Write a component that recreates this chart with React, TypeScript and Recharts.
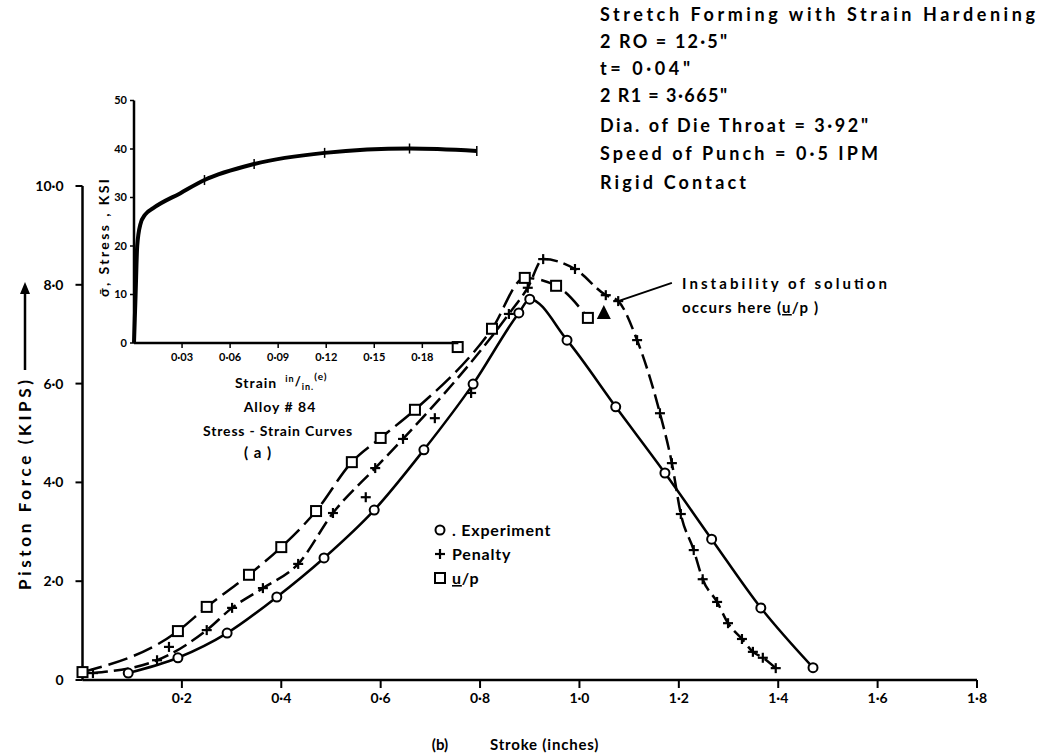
import React from "react";
import {
  ComposedChart,
  LineChart,
  Line,
  Scatter,
  XAxis,
  YAxis,
  ReferenceLine,
  Legend,
} from "recharts";

const FONT = "Lato, 'DejaVu Sans', sans-serif";

// main chart: [stroke (in), piston force (kips)]
const experiment = [
  [0.092, 0.14], [0.192, 0.45], [0.291, 0.95], [0.391, 1.68], [0.486, 2.47],
  [0.587, 3.44], [0.687, 4.66], [0.786, 5.99], [0.878, 7.43], [0.9, 7.71],
  [0.975, 6.88], [1.073, 5.53], [1.172, 4.19], [1.266, 2.85], [1.365, 1.46],
  [1.47, 0.25],
];
const penalty = [
  [0.021, 0.14], [0.15, 0.4], [0.25, 1.01], [0.301, 1.46],
  [0.363, 1.86], [0.434, 2.35], [0.504, 3.38], [0.589, 4.29],
  [0.645, 4.88], [0.858, 7.41], [0.896, 7.94],
  [0.927, 8.52], [0.991, 8.32], [1.053, 7.79], [1.078, 7.67], [1.116, 6.88],
  [1.162, 5.4], [1.186, 4.39], [1.204, 3.36], [1.23, 2.63], [1.248, 2.04],
  [1.277, 1.58], [1.299, 1.15], [1.327, 0.83], [1.349, 0.57], [1.369, 0.45],
  [1.395, 0.24],
];
// penalty points plotted off the drawn curve
const penaltyStray = [[0.174, 0.67], [0.57, 3.7], [0.709, 5.3], [0.782, 5.81]];
const uOverP = [
  [0.0, 0.16], [0.192, 0.99], [0.25, 1.48], [0.335, 2.13], [0.4, 2.69],
  [0.47, 3.42], [0.542, 4.41], [0.6, 4.9], [0.669, 5.47],
  [0.824, 7.11], [0.89, 8.14], [0.953, 7.98], [1.017, 7.33],
];
const uOverPStray = [[0.755, 6.74]];
const instability = [[1.049, 7.43]];
const arrowFrom = [1.186, 8.04];
const arrowTo = [1.078, 7.67];

const strokeTicks = [0.2, 0.4, 0.6, 0.8, 1.0, 1.2, 1.4, 1.6, 1.8];
const forceTicks = [0, 2, 4, 6, 8, 10];

// inset: [strain (in/in), stress (ksi)]
const stressStrain = [
  [0, 0], [0.001, 10], [0.002, 20], [0.004, 24.5], [0.007, 26.5],
  [0.012, 27.8], [0.029, 30.9], [0.044, 33.6], [0.075, 36.9], [0.119, 39.2],
  [0.172, 40.1], [0.214, 39.6],
];
const FIRST_MARKED = 7;
const strainTicks = [0.03, 0.06, 0.09, 0.12, 0.15, 0.18];
const stressTicks = [0, 10, 20, 30, 40, 50];
const strainAxisEnd = 0.2025;

const titleLines = [
  { text: "Stretch  Forming  with  Strain  Hardening", width: 435, y: 21 },
  { text: "2 RO = 12·5\"", width: 127, y: 48 },
  { text: "t= 0·04\"", width: 90, y: 75 },
  { text: "2 R1 = 3·665\"", width: 127, y: 102 },
  { text: "Dia. of  Die  Throat = 3·92\"", width: 268, y: 132 },
  { text: "Speed  of  Punch = 0·5 IPM", width: 278, y: 160 },
  { text: "Rigid  Contact", width: 146, y: 189 },
];

const toPts = (arr: number[][]) => arr.map(([x, y]) => ({ x, y }));

const dec = (v: number) => (v === 0 ? "0" : v.toFixed(1).replace(".", "·"));
const dec2 = (v: number) => v.toFixed(2).replace(".", "·");

function CircleDot(p: any) {
  if (p.cx == null) return <g key={p.key} />;
  return <circle key={`c-${p.index}`} cx={p.cx} cy={p.cy} r={4.5} fill="#fff" stroke="#000" strokeWidth={2} />;
}
function SquareDot(p: any) {
  if (p.cx == null) return <g key={p.key} />;
  return <rect key={`s-${p.index}`} x={p.cx - 5} y={p.cy - 5} width={10} height={10} fill="#fff" stroke="#000" strokeWidth={2} />;
}
function PlusDot(p: any) {
  if (p.cx == null) return <g key={p.key} />;
  return (
    <g key={`p-${p.index}`} stroke="#000" strokeWidth={2.2}>
      <line x1={p.cx - 5} y1={p.cy} x2={p.cx + 5} y2={p.cy} />
      <line x1={p.cx} y1={p.cy - 5} x2={p.cx} y2={p.cy + 5} />
    </g>
  );
}
function Triangle(p: any) {
  const { cx, cy } = p;
  return <polygon points={`${cx},${cy - 8} ${cx - 7},${cy + 6} ${cx + 7},${cy + 6}`} fill="#000" />;
}
function StrainTick(p: any) {
  if (p.cx == null || p.index < FIRST_MARKED) return <g key={`t-${p.index}`} />;
  return <line key={`t-${p.index}`} x1={p.cx} y1={p.cy - 5} x2={p.cx} y2={p.cy + 5} stroke="#000" strokeWidth={1.5} />;
}

const legendMarker: Record<string, (x: number, y: number) => React.ReactNode> = {
  Experiment: (x, y) => <circle cx={x} cy={y} r={4.5} fill="#fff" stroke="#000" strokeWidth={2} />,
  Penalty: (x, y) => (
    <g stroke="#000" strokeWidth={2.2}>
      <line x1={x - 5} y1={y} x2={x + 5} y2={y} />
      <line x1={x} y1={y - 5} x2={x} y2={y + 5} />
    </g>
  ),
  "u/p": (x, y) => <rect x={x - 5} y={y - 5} width={10} height={10} fill="#fff" stroke="#000" strokeWidth={2} />,
};

function LegendBox(props: any) {
  const items = (props.payload || []).filter((d: any) => legendMarker[d.value]);
  return (
    <svg width={160} height={80} style={{ overflow: "visible" }}>
      {items.map((d: any, i: number) => (
        <g key={d.value} transform={`translate(0, ${i * 24})`}>
          {legendMarker[d.value](10, 10)}
          <text x={22} y={16} fontFamily={FONT} fontWeight={700} fontSize={16} letterSpacing={0.8} fill="#000">
            {d.value === "Experiment" ? ". Experiment" : null}
            {d.value === "Penalty" ? "Penalty" : null}
            {d.value === "u/p" ? (
              <>
                <tspan style={{ textDecoration: "underline" }}>u</tspan>/p
              </>
            ) : null}
          </text>
        </g>
      ))}
    </svg>
  );
}

const txt = { fontFamily: FONT, fontWeight: 700, fill: "#000" } as const;

export default function App() {
  return (
    <div style={{ position: "absolute", left: 0, top: 0, width: 1046, height: 756, background: "#fff" }}>
      <div style={{ position: "absolute", left: 0, top: 0 }}>
        <ComposedChart width={1046} height={756} margin={{ top: 186, right: 69, bottom: 36, left: 22.5 }}>
          <XAxis
            type="number"
            dataKey="x"
            domain={[0, 1.8]}
            ticks={strokeTicks}
            tickFormatter={dec}
            height={40}
            axisLine={{ stroke: "#000", strokeWidth: 2.5 }}
            tickLine={{ stroke: "#000", strokeWidth: 2 }}
            tickSize={8}
            tickMargin={5}
            tick={{ ...txt, fontSize: 14 }}
          />
          <YAxis
            type="number"
            dataKey="y"
            domain={[0, 10]}
            ticks={forceTicks}
            tickFormatter={dec}
            width={60}
            axisLine={{ stroke: "#000", strokeWidth: 2.5 }}
            tickLine={{ stroke: "#000", strokeWidth: 2 }}
            tickSize={7}
            tickMargin={12}
            tick={{ ...txt, fontSize: 14 }}
          />
          <Line
            name="Experiment"
            data={toPts(experiment)}
            dataKey="y"
            type="monotone"
            stroke="#000"
            strokeWidth={2.5}
            dot={CircleDot}
            isAnimationActive={false}
          />
          <Line
            name="Penalty"
            data={toPts(penalty)}
            dataKey="y"
            type="monotone"
            stroke="#000"
            strokeWidth={2.5}
            strokeDasharray="15 6"
            dot={PlusDot}
            isAnimationActive={false}
          />
          <Line
            name="u/p"
            data={toPts(uOverP)}
            dataKey="y"
            type="monotone"
            stroke="#000"
            strokeWidth={2.5}
            strokeDasharray="20 7"
            dot={SquareDot}
            isAnimationActive={false}
          />
          <Scatter
            name="penalty-stray"
            data={toPts(penaltyStray)}
            dataKey="y"
            shape={PlusDot}
            legendType="none"
            isAnimationActive={false}
          />
          <Scatter
            name="up-stray"
            data={toPts(uOverPStray)}
            dataKey="y"
            shape={SquareDot}
            legendType="none"
            isAnimationActive={false}
          />
          <Scatter
            name="instability"
            data={toPts(instability)}
            dataKey="y"
            shape={Triangle}
            legendType="none"
            isAnimationActive={false}
          />
          <ReferenceLine
            segment={[
              { x: arrowFrom[0], y: arrowFrom[1] },
              { x: arrowTo[0], y: arrowTo[1] },
            ]}
            stroke="#000"
            strokeWidth={2}
          />
          <Legend
            layout="vertical"
            align="center"
            verticalAlign="middle"
            content={LegendBox}
            wrapperStyle={{ position: "absolute", left: 430, top: 520, width: 160, height: 80 }}
          />
        </ComposedChart>
      </div>

      <div style={{ position: "absolute", left: 0, top: 0 }}>
        <LineChart width={500} height={380} margin={{ top: 100.5, right: 20, bottom: 12, left: 94 }}>
          <XAxis
            type="number"
            dataKey="x"
            domain={[0, 0.216]}
            ticks={strainTicks}
            tickFormatter={dec2}
            height={25}
            axisLine={false}
            tickLine={{ stroke: "#000", strokeWidth: 1.5 }}
            tickSize={5}
            tickMargin={5}
            tick={{ ...txt, fontSize: 11 }}
          />
          <YAxis
            type="number"
            dataKey="y"
            domain={[0, 50]}
            ticks={stressTicks}
            width={40}
            axisLine={{ stroke: "#000", strokeWidth: 2.5 }}
            tickLine={{ stroke: "#000", strokeWidth: 1.5 }}
            tickSize={4}
            tickMargin={3}
            tick={{ ...txt, fontSize: 11 }}
          />
          <ReferenceLine
            segment={[
              { x: 0, y: 0 },
              { x: strainAxisEnd, y: 0 },
            ]}
            stroke="#000"
            strokeWidth={2.5}
          />
          <Line
            data={toPts(stressStrain)}
            dataKey="y"
            type="monotone"
            stroke="#000"
            strokeWidth={4}
            dot={StrainTick}
            isAnimationActive={false}
          />
        </LineChart>
      </div>

      <svg width={1046} height={756} style={{ position: "absolute", left: 0, top: 0, pointerEvents: "none" }}>
        {titleLines.map((l, i) => (
          <text
            key={i}
            x={600}
            y={l.y}
            fontSize={18}
            textLength={l.width}
            lengthAdjust="spacing"
            {...txt}
          >
            {l.text}
          </text>
        ))}

        <text x={682} y={289} fontSize={15} textLength={205} lengthAdjust="spacing" {...txt}>
          Instability  of  solution
        </text>
        <text x={682} y={313} fontSize={15} {...txt} letterSpacing={1.2}>
          occurs  here  (<tspan style={{ textDecoration: "underline" }}>u</tspan>/p )
        </text>

        <text x={440} y={750} fontSize={15} textAnchor="middle" {...txt}>(b)</text>
        <text x={490} y={750} fontSize={15} {...txt} letterSpacing={0.8}>Stroke (inches)</text>

        <g transform="translate(31, 590) rotate(-90)">
          <text x={0} y={0} fontSize={17} textLength={210} lengthAdjust="spacing" {...txt}>
            Piston  Force  (KIPS)
          </text>
          <line x1={220} y1={-6} x2={300} y2={-6} stroke="#000" strokeWidth={2.5} />
          <polygon points="308,-6 296,-11 296,-1" fill="#000" />
        </g>

        <g transform="translate(109, 297) rotate(-90)">
          <text x={0} y={0} fontSize={14} textLength={118} lengthAdjust="spacing" {...txt}>σ̄,  Stress , KSI</text>
        </g>

        <text x={235} y={388} fontSize={14} {...txt} letterSpacing={1}>
          Strain
          <tspan dx={8} dy={-6} fontSize={9}>in</tspan>
          <tspan dy={4} fontSize={13}>/</tspan>
          <tspan dy={4} fontSize={9}>in.</tspan>
          <tspan dy={-10} fontSize={10}>(e)</tspan>
        </text>
        <text x={280} y={412} fontSize={14} textAnchor="middle" {...txt} letterSpacing={1}>Alloy   # 84</text>
        <text x={278} y={436} fontSize={14} textAnchor="middle" {...txt} letterSpacing={0.8}>Stress - Strain  Curves</text>
        <text x={258} y={458} fontSize={15} textAnchor="middle" {...txt} letterSpacing={1}>( a )</text>
      </svg>
    </div>
  );
}
